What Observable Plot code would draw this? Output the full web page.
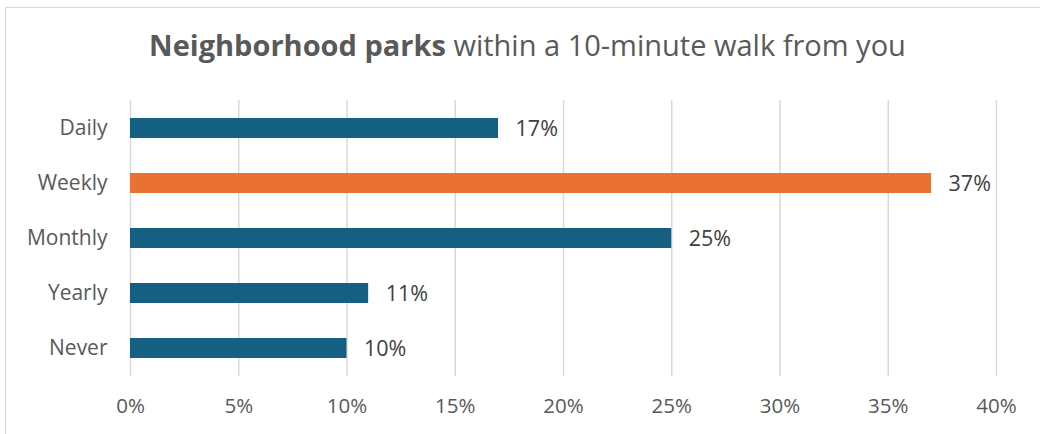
<!DOCTYPE html>
<html>
<head>
<meta charset="utf-8">
<script src="https://cdn.jsdelivr.net/npm/d3@7"></script>
<script src="https://cdn.jsdelivr.net/npm/@observablehq/plot@0.6"></script>
<style>
  html, body { margin: 0; padding: 0; background: #fff; }
  #wrap { position: relative; width: 1040px; height: 434px; overflow: hidden; font-family: "Open Sans", sans-serif; }
  #frame { position: absolute; left: 5px; top: 7px; width: 1100px; height: 500px; border: 1.5px solid #d9d9d9; box-sizing: border-box; }
  #title { position: absolute; left: 0; top: 25px; width: 1055px; text-align: center; font-size: 29px; color: #595959; white-space: nowrap; }
  #title b { font-weight: 700; }
  #chart { position: absolute; left: 0; top: 0; }
</style>
</head>
<body>
<div id="wrap">
  <div id="frame"></div>
  <div id="title"><b>Neighborhood parks</b> within a 10-minute walk from you</div>
  <div id="chart"></div>
</div>
<script>
const categories = ["Daily", "Weekly", "Monthly", "Yearly", "Never"];
const values = [0.17, 0.37, 0.25, 0.11, 0.10];
const highlight = ["Weekly"];
const xTicks = [0, 0.05, 0.10, 0.15, 0.20, 0.25, 0.30, 0.35, 0.40];

const data = categories.map((c, i) => ({category: c, value: values[i], hl: highlight.includes(c)}));
const pct = d3.format(".0%");

const chart = Plot.plot({
  width: 1040,
  height: 434,
  marginLeft: 130,
  marginRight: 44,
  marginTop: 100,
  marginBottom: 58,
  style: {fontFamily: "Open Sans, sans-serif", fontSize: "20px", color: "#595959", background: "transparent"},
  x: {domain: [0, 0.40], ticks: xTicks, tickFormat: pct, label: null},
  y: {domain: categories, paddingInner: 0.64, paddingOuter: 0.32, label: null},
  marks: [
    Plot.gridX(xTicks, {stroke: "#d9d9d9", strokeOpacity: 1, strokeWidth: 1.5}),
    Plot.axisX(xTicks, {tickSize: 0, tickPadding: 22, tickFormat: pct, fill: "#595959", fontSize: 20.5, label: null}),
    Plot.axisY({tickSize: 0, tickPadding: 23, fill: "#595959", fontSize: 21, label: null}),
    Plot.barX(data, {y: "category", x: "value", fill: d => d.hl ? "#E97132" : "#156082"}),
    Plot.text(data, {y: "category", x: "value", text: d => pct(d.value), textAnchor: "start", dx: 17, dy: 1, fill: "#404040", fontSize: 21.5})
  ]
});
document.getElementById("chart").appendChild(chart);
</script>
</body>
</html>
